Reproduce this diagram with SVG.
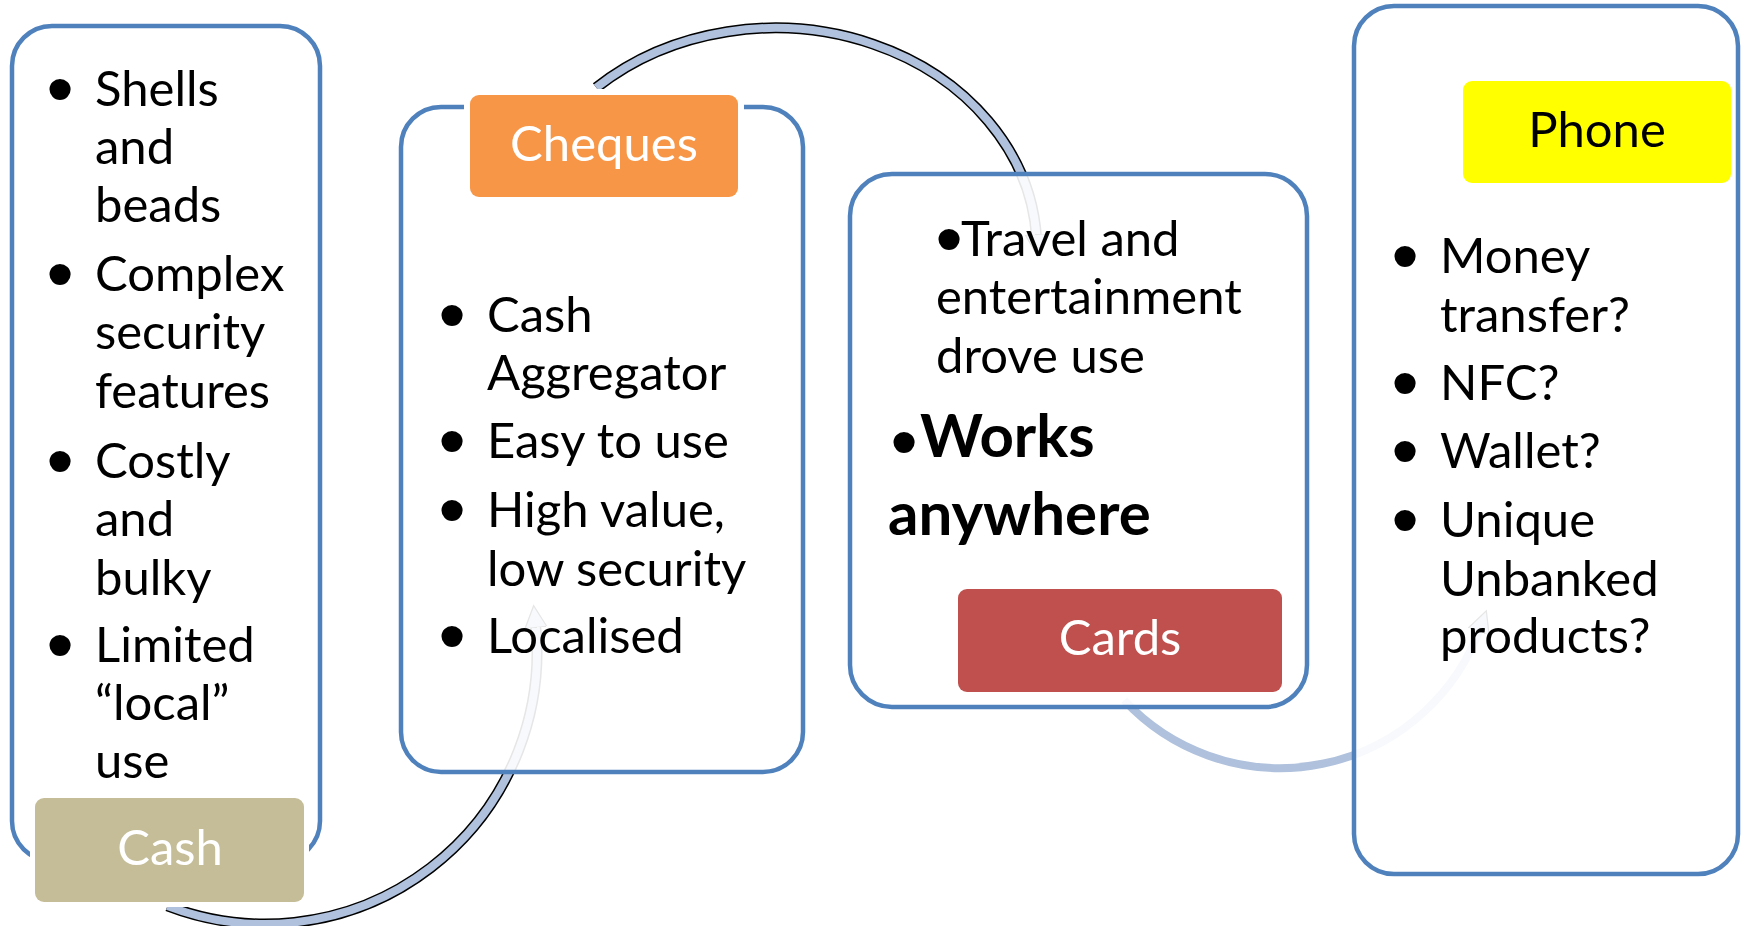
<svg xmlns="http://www.w3.org/2000/svg" width="1743" height="926" viewBox="0 0 1743 926">
  <defs>
    <style>
      .box { fill: #ffffff; fill-opacity: 0.9; stroke: #4f81bd; stroke-width: 4.5; }
      .halo { fill: #ffffff; }
      .t { font-family: Lato, "Liberation Sans", sans-serif; font-size: 49px; fill: #000000; }
      .bd { font-weight: bold; font-size: 60px; }
      .b { font-family: "Liberation Sans", Arial, sans-serif; font-size: 56px; fill: #000000; stroke: #000000; stroke-width: 6; stroke-linejoin: round; text-anchor: middle; }
      .lbl { font-family: Lato, "Liberation Sans", sans-serif; font-size: 49px; fill: #ffffff; text-anchor: middle; }
      .edge { fill: none; stroke: #000000; stroke-width: 11; }
      .band { fill: none; stroke: #afc1dc; stroke-width: 8; }
    </style>
    <marker id="tip" markerUnits="userSpaceOnUse" markerWidth="30" markerHeight="30" refX="4" refY="12" orient="auto">
      <path d="M0 1 L22 12 L0 23 Z" fill="#afc1dc" stroke="#000000" stroke-width="1.2"/>
    </marker>
  </defs>

  <!-- curved arrows linking each stage to the next -->
  <g id="connectors">
    <path class="edge" d="M 167.5 905.9 A 272 272 0 0 0 535.5 623.6"/>
    <path class="band" d="M 167.5 905.9 A 272 272 0 0 0 535.5 623.6" marker-end="url(#tip)"/>
    <path class="edge" d="M 596.3 87.6 A 262 222 0 0 1 1036.6 238.4"/>
    <path class="band" d="M 596.3 87.6 A 262 222 0 0 1 1036.6 238.4" marker-end="url(#tip)"/>
    <path class="band" stroke-width="9" d="M 1124.2 700.3 A 213 213 0 0 0 1480.2 627.8" marker-end="url(#tip)"/>
  </g>

  <!-- Cash -->
  <g id="cash">
    <rect class="box" x="12" y="26" width="308" height="835" rx="40"/>
    <text class="b" x="60" y="108">•</text>
    <text class="t" x="95" y="106">Shells</text>
    <text class="t" x="95" y="164">and</text>
    <text class="t" x="95" y="222">beads</text>
    <text class="b" x="60" y="293">•</text>
    <text class="t" x="95" y="291">Complex</text>
    <text class="t" x="95" y="349">security</text>
    <text class="t" x="95" y="408">features</text>
    <text class="b" x="60" y="480">•</text>
    <text class="t" x="95" y="478">Costly</text>
    <text class="t" x="95" y="536">and</text>
    <text class="t" x="95" y="595">bulky</text>
    <text class="b" x="60" y="664">•</text>
    <text class="t" x="95" y="662">Limited</text>
    <text class="t" x="95" y="720">“local”</text>
    <text class="t" x="95" y="778">use</text>
    <rect class="halo" x="30" y="793" width="279" height="114" rx="12"/>
    <rect x="35" y="798" width="269" height="104" rx="9" fill="#c4bd97"/>
    <text class="lbl" x="170" y="865">Cash</text>
  </g>

  <!-- Cheques -->
  <g id="cheques">
    <rect class="box" x="401" y="107" width="402" height="665" rx="40"/>
    <text class="b" x="452" y="334">•</text>
    <text class="t" x="487" y="332">Cash</text>
    <text class="t" x="487" y="390">Aggregator</text>
    <text class="b" x="452" y="460">•</text>
    <text class="t" x="487" y="458">Easy to use</text>
    <text class="b" x="452" y="529">•</text>
    <text class="t" x="487" y="527">High value,</text>
    <text class="t" x="487" y="586">low security</text>
    <text class="b" x="452" y="655">•</text>
    <text class="t" x="487" y="653">Localised</text>
    <rect class="halo" x="464" y="89" width="280" height="114" rx="12"/>
    <rect x="470" y="95" width="268" height="102" rx="9" fill="#f79646"/>
    <text class="lbl" x="604" y="161">Cheques</text>
  </g>

  <!-- Cards -->
  <g id="cards">
    <rect class="box" x="850" y="174" width="457" height="533" rx="42"/>
    <text class="b" x="949" y="258" font-size="49" stroke-width="8">•</text>
    <text class="t" x="961" y="256">Travel and</text>
    <text class="t" x="936" y="314">entertainment</text>
    <text class="t" x="936" y="373">drove use</text>
    <text class="b" x="904" y="461" font-size="64" stroke-width="12">•</text>
    <text class="t bd" x="920" y="457">Works</text>
    <text class="t bd" x="888" y="535">anywhere</text>
    <rect x="958" y="589" width="324" height="103" rx="9" fill="#c0504d"/>
    <text class="lbl" x="1120" y="655">Cards</text>
  </g>

  <!-- Phone -->
  <g id="phone">
    <rect class="box" x="1354" y="6" width="384" height="868" rx="40"/>
    <rect class="halo" x="1459" y="77" width="276" height="110" rx="11"/>
    <rect x="1463" y="81" width="268" height="102" rx="9" fill="#ffff00"/>
    <text class="lbl" x="1597" y="147" style="fill:#000000">Phone</text>
    <text class="b" x="1405" y="275">•</text>
    <text class="t" x="1440" y="273">Money</text>
    <text class="t" x="1440" y="332">transfer?</text>
    <text class="b" x="1405" y="402">•</text>
    <text class="t" x="1440" y="400">NFC?</text>
    <text class="b" x="1405" y="470">•</text>
    <text class="t" x="1440" y="468">Wallet?</text>
    <text class="b" x="1405" y="539">•</text>
    <text class="t" x="1440" y="537">Unique</text>
    <text class="t" x="1440" y="596">Unbanked</text>
    <text class="t" x="1440" y="653">products?</text>
  </g>
</svg>
